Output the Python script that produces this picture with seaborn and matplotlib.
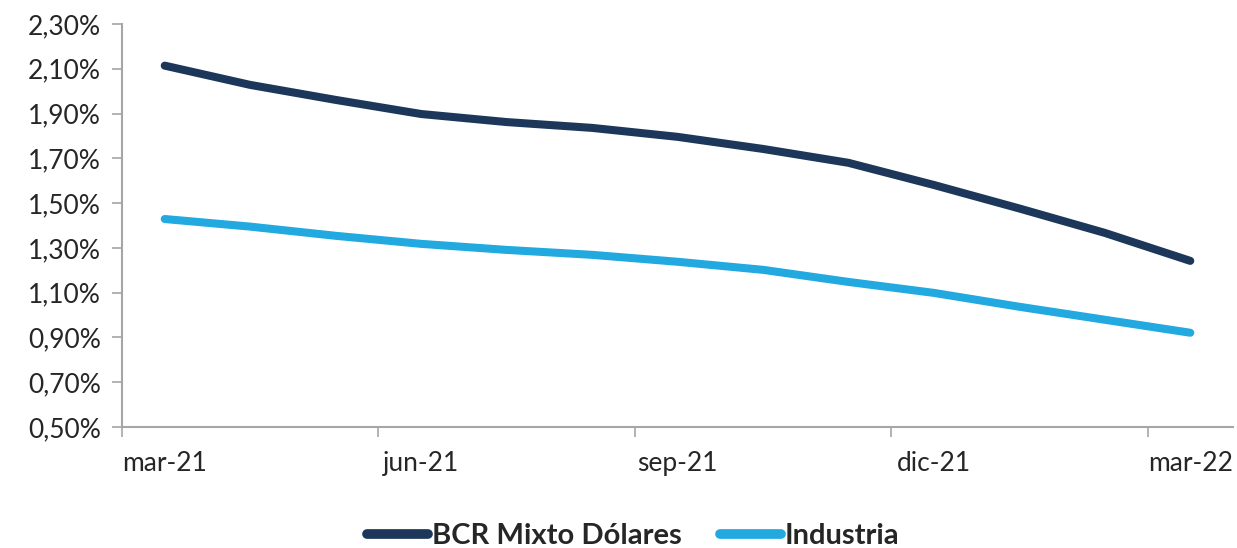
import numpy as np
import pandas as pd
import matplotlib
matplotlib.use("Agg")
import matplotlib.pyplot as plt
from matplotlib.ticker import FixedLocator
import seaborn as sns

# monthly values (%)
meses = ["mar-21", "abr-21", "may-21", "jun-21", "jul-21", "ago-21", "sep-21",
         "oct-21", "nov-21", "dic-21", "ene-22", "feb-22", "mar-22"]
bcr = [2.114, 2.028, 1.961, 1.898, 1.862, 1.836, 1.796,
       1.742, 1.680, 1.581, 1.476, 1.367, 1.242]
industria = [1.429, 1.395, 1.354, 1.318, 1.291, 1.269, 1.238,
             1.202, 1.148, 1.099, 1.037, 0.979, 0.921]
series = ["BCR Mixto Dólares", "Industria"]
colores = ["#1C375A", "#21A9E0"]
yticks = [0.50, 0.70, 0.90, 1.10, 1.30, 1.50, 1.70, 1.90, 2.10, 2.30]

df = pd.DataFrame({
    "pos": list(range(len(meses))) * 2,
    "valor": bcr + industria,
    "serie": [series[0]] * len(meses) + [series[1]] * len(meses),
})

sns.set_style("white")
plt.rcParams["font.family"] = ["Lato", "DejaVu Sans"]

fig = plt.figure(figsize=(12.37, 5.48), dpi=100)
ax = fig.add_axes([122 / 1237, 1 - 427 / 548, 1111 / 1237, 403 / 548])

sns.lineplot(data=df, x="pos", y="valor", hue="serie", palette=colores,
             linewidth=5.8, ax=ax, legend=True)
for ln in ax.lines:
    ln.set_solid_capstyle("round")
    ln.set_solid_joinstyle("round")

ax.set_xlim(-0.5, len(meses) - 0.5)
ax.set_ylim(0.50, 2.30)
ax.set_yticks(yticks)
ax.set_yticklabels([("%.2f%%" % v).replace(".", ",") for v in yticks])
ax.set_xticks(range(0, len(meses), 3))
ax.set_xticklabels(meses[::3])
ax.xaxis.set_minor_locator(FixedLocator(np.arange(-0.5, len(meses), 3)))

ax.set_xlabel("")
ax.set_ylabel("")
for s in ["top", "right"]:
    ax.spines[s].set_visible(False)
for s in ["left", "bottom"]:
    ax.spines[s].set_color("#A6A6A6")
    ax.spines[s].set_linewidth(1.5)

ax.tick_params(axis="y", which="major", left=True, length=7, width=1.2,
               color="#A6A6A6", labelsize=19, labelcolor="#262626", pad=8)
ax.tick_params(axis="x", which="major", bottom=False, labelsize=19,
               labelcolor="#262626", pad=14)
ax.tick_params(axis="x", which="minor", bottom=True, length=7, width=1.2,
               color="#A6A6A6")

handles, labels = ax.get_legend_handles_labels()
leg = ax.legend(handles, labels, loc="center", bbox_to_anchor=(0.46, -0.27),
                ncol=2, frameon=False, handlelength=2.1, handletextpad=0.12,
                columnspacing=1.3, prop={"size": 21, "weight": "bold"})
for h in leg.get_lines():
    h.set_linewidth(7)
    h.set_solid_capstyle("round")
for t in leg.get_texts():
    t.set_color("#262626")

plt.savefig("out.png", dpi=100)
